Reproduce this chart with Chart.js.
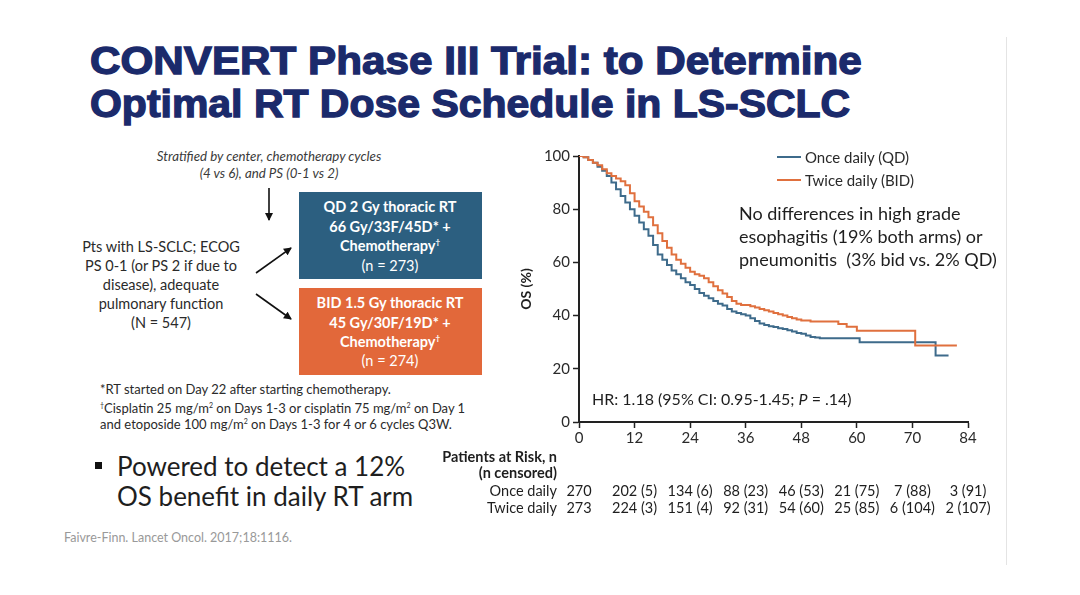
<!DOCTYPE html>
<html lang="en">
<head>
  <meta charset="UTF-8" />
  <title>CONVERT Phase III Trial - OS</title>
  <script src="https://cdn.jsdelivr.net/npm/chart.js"></script>
  <style>
    html, body { margin: 0; padding: 0; }
    body {
      width: 1080px;
      height: 595px;
      position: relative;
      overflow: hidden;
      background: #fff;
      font-family: Lato, 'Open Sans', sans-serif;
      color: #2b2b2b;
    }
    .t { position: absolute; white-space: pre; transform: translateY(-50%); line-height: 1.2; }
    .title {
      position: absolute;
      left: 90px;
      white-space: nowrap;
      font-family: 'Liberation Sans', Arial, sans-serif;
      font-weight: bold;
      font-size: 38px;
      line-height: 38px;
      color: #1b2a6b;
      -webkit-text-stroke: 1.3px #1b2a6b;
      transform-origin: left center;
    }
    .strat { font-style: italic; font-size: 13.3px; color: #3a3a3a; text-align: center; }
    .pts { font-size: 14.5px; color: #2a2a2a; }
    .box { position: absolute; left: 299px; width: 183px; height: 87px; }
    .boxtxt { color: #fff; font-weight: bold; font-size: 14.5px; }
    .foot { font-size: 13px; color: #2a2a2a; }
    .bullet { font-size: 26px; color: #1e1e1e; }
    .cite { font-size: 12.5px; color: #999; }
    .legend { font-size: 15px; color: #2a2a2a; }
    .lgline { position: absolute; width: 24px; height: 2px; }
    .note { font-size: 18px; color: #1e1e1e; }
    .hr { font-size: 16px; color: #1e1e1e; }
    .risk { font-size: 14.5px; color: #1e1e1e; }
    .riskhead { font-size: 14.5px; font-weight: bold; color: #1e1e1e; }
    #chartWrap { position: absolute; left: 500px; top: 140px; width: 480px; height: 320px; }
    #edge { position: absolute; left: 1006px; top: 37px; width: 1px; height: 528px; background: #e4e4e4; }
  </style>
</head>
<body>
  <div class="title" id="title1" style="top:42px">CONVERT Phase III Trial: to Determine</div>
  <div class="title" id="title2" style="top:85px">Optimal RT Dose Schedule in LS-SCLC</div>

  <!-- study design -->
  <div class="t strat" style="left:269px; top:157px; transform:translate(-50%,-50%)">Stratified by center, chemotherapy cycles</div>
  <div class="t strat" style="left:269px; top:174px; transform:translate(-50%,-50%)">(4 vs 6), and PS (0-1 vs 2)</div>

  <div class="t pts" style="left:161px; top:247px; transform:translate(-50%,-50%)">Pts with LS-SCLC; ECOG</div>
  <div class="t pts" style="left:161px; top:266px; transform:translate(-50%,-50%)">PS 0-1 (or PS 2 if due to</div>
  <div class="t pts" style="left:161px; top:285px; transform:translate(-50%,-50%)">disease), adequate</div>
  <div class="t pts" style="left:161px; top:304px; transform:translate(-50%,-50%)">pulmonary function</div>
  <div class="t pts" style="left:161px; top:323px; transform:translate(-50%,-50%)">(N = 547)</div>

  <svg width="1080" height="595" style="position:absolute;left:0;top:0">
    <defs>
      <marker id="ah" markerWidth="8" markerHeight="8" refX="7" refY="4" orient="auto" markerUnits="userSpaceOnUse">
        <path d="M0,0 L8,4 L0,8 z" fill="#111" />
      </marker>
    </defs>
    <line x1="269" y1="188" x2="269" y2="220" stroke="#111" stroke-width="1.6" marker-end="url(#ah)" />
    <line x1="256" y1="273" x2="291" y2="248" stroke="#111" stroke-width="1.6" marker-end="url(#ah)" />
    <line x1="256" y1="294" x2="291" y2="319" stroke="#111" stroke-width="1.6" marker-end="url(#ah)" />
  </svg>

  <div class="box" style="top:192px; background:#2c5f80"></div>
  <div class="box" style="top:288px; background:#e2683a"></div>
  <div class="t boxtxt" style="left:390px; top:207px; transform:translate(-50%,-50%)">QD 2 Gy thoracic RT</div>
  <div class="t boxtxt" style="left:390px; top:227px; transform:translate(-50%,-50%)">66 Gy/33F/45D* +</div>
  <div class="t boxtxt" style="left:390px; top:246px; transform:translate(-50%,-50%)">Chemotherapy<sup style="font-size:8px">†</sup></div>
  <div class="t boxtxt" style="left:390px; top:266px; transform:translate(-50%,-50%); font-weight:normal">(n = 273)</div>
  <div class="t boxtxt" style="left:390px; top:303px; transform:translate(-50%,-50%)">BID 1.5 Gy thoracic RT</div>
  <div class="t boxtxt" style="left:390px; top:323px; transform:translate(-50%,-50%)">45 Gy/30F/19D* +</div>
  <div class="t boxtxt" style="left:390px; top:342px; transform:translate(-50%,-50%)">Chemotherapy<sup style="font-size:8px">†</sup></div>
  <div class="t boxtxt" style="left:390px; top:361px; transform:translate(-50%,-50%); font-weight:normal">(n = 274)</div>

  <div class="t foot" style="left:100px; top:390px">*RT started on Day 22 after starting chemotherapy.</div>
  <div class="t foot" style="left:100px; top:409px"><sup style="font-size:7px">†</sup>Cisplatin 25 mg/m<sup style="font-size:7px">2</sup> on Days 1-3 or cisplatin 75 mg/m<sup style="font-size:7px">2</sup> on Day 1</div>
  <div class="t foot" style="left:100px; top:425px">and etoposide 100 mg/m<sup style="font-size:7px">2</sup> on Days 1-3 for 4 or 6 cycles Q3W.</div>

  <div style="position:absolute; left:95px; top:462px; width:7px; height:7px; background:#111"></div>
  <div class="t bullet" style="left:117px; top:467px">Powered to detect a 12%</div>
  <div class="t bullet" style="left:117px; top:497px">OS benefit in daily RT arm</div>
  <div class="t cite" style="left:64px; top:537px">Faivre-Finn. Lancet Oncol. 2017;18:1116.</div>

  <!-- chart -->
  <div id="chartWrap"><canvas id="osChart" width="480" height="320"></canvas></div>

  <div class="lgline" style="left:777px; top:156px; background:#3e6b8b"></div>
  <div class="t legend" style="left:805px; top:157px">Once daily (QD)</div>
  <div class="lgline" style="left:777px; top:179px; background:#e0703e"></div>
  <div class="t legend" style="left:805px; top:180px">Twice daily (BID)</div>

  <div class="t note" style="left:739px; top:214px">No differences in high grade</div>
  <div class="t note" style="left:739px; top:237px">esophagitis (19% both arms) or</div>
  <div class="t note" style="left:739px; top:260px">pneumonitis  (3% bid vs. 2% QD)</div>

  <div class="t hr" style="left:592px; top:399px">HR: 1.18 (95% CI: 0.95-1.45; <i>P</i> = .14)</div>

  <div class="t riskhead" style="right:523px; top:457px">Patients at Risk, n</div>
  <div class="t riskhead" style="right:523px; top:473px">(n censored)</div>
  <div class="t risk" style="right:523px; top:491px">Once daily</div>
  <div class="t risk" style="right:523px; top:508px">Twice daily</div>
  <div id="riskCells"></div>

  <div id="edge"></div>

  <script>
    // months and OS (%)
    const qdMonths = [0, 1, 2, 3, 4, 5, 6, 7, 8, 9, 10, 11, 12, 13, 14, 15, 16, 17, 18, 19, 20,
      21, 22, 23, 24, 25, 26, 27, 28, 29, 30, 31, 32, 33, 34, 35, 36, 37, 38, 39, 40,
      41, 42, 43, 44, 45, 46, 47, 48, 49, 50, 51, 52, 60.6, 77, 79.8];
    const qdSurvival = [100, 99.5, 98.5, 97.5, 96, 94.5, 92.5, 90, 87.5, 85, 82.5, 80, 77.5, 75, 72.5, 70, 66.5, 63, 61, 59, 57,
      55.5, 54, 52.5, 51.5, 50, 48.5, 47.5, 46.5, 45.5, 44.5, 43.8, 42.5, 41.5, 41, 40.5, 40, 39, 38, 37, 36.5,
      36, 35.7, 35.2, 35, 34.5, 34, 33.5, 33.2, 32.5, 32, 31.8, 31.5, 30, 25, 25];

    const bidMonths = [0, 1, 2, 3, 4, 5, 6, 7, 8, 9, 10, 11, 12, 13, 14, 15, 16, 17, 18, 19, 20,
      21, 22, 23, 24, 25, 26, 27, 28, 29, 30, 31, 32, 33, 34, 35, 36, 37, 38, 39, 40,
      41, 42, 43, 44, 45, 46, 47, 48, 50, 56, 57.8, 60, 72.6, 81.6];
    const bidSurvival = [100, 99.5, 98.5, 97.5, 96.5, 95, 93.5, 92.5, 91.5, 90.5, 89, 86, 83, 81, 79, 77, 74, 71, 68, 65.5, 63,
      61, 59.5, 58, 56.5, 55.5, 55, 54, 52.5, 51, 49.5, 48.3, 47, 45.5, 44.5, 44, 44, 43.5, 43, 42.5, 42,
      41.5, 41, 40.5, 40, 39.5, 39, 38.5, 38.2, 37.8, 36.8, 35.8, 34.3, 28.8, 28.8];

    const xTickValues = [0, 12, 24, 36, 48, 60, 72, 84];
    const xTickLabels = ['0', '12', '24', '36', '48', '60', '70', '84'];

    // patients at risk (n censored)
    const qdAtRisk = [270, 202, 134, 88, 46, 21, 7, 3];
    const qdCensored = [null, 5, 6, 23, 53, 75, 88, 91];
    const bidAtRisk = [273, 224, 151, 92, 54, 25, 6, 2];
    const bidCensored = [null, 3, 4, 31, 60, 85, 104, 107];

    // stretch the title lines to the slide widths
    const t1 = document.getElementById('title1');
    const t2 = document.getElementById('title2');
    t1.style.transform = 'scaleX(' + (772 / t1.scrollWidth) + ')';
    t2.style.transform = 'scaleX(' + (760 / t2.scrollWidth) + ')';

    const tickFont = { family: 'Lato', size: 15 };

    const chart = new Chart(document.getElementById('osChart'), {
      type: 'line',
      data: {
        datasets: [
          {
            label: 'Once daily (QD)',
            data: qdMonths.map((m, i) => ({ x: m, y: qdSurvival[i] })),
            borderColor: '#3e6b8b',
            borderWidth: 2,
            stepped: true,
            pointRadius: 0,
            order: 1
          },
          {
            label: 'Twice daily (BID)',
            data: bidMonths.map((m, i) => ({ x: m, y: bidSurvival[i] })),
            borderColor: '#e0703e',
            borderWidth: 2,
            stepped: true,
            pointRadius: 0,
            order: 0
          }
        ]
      },
      options: {
        responsive: false,
        animation: false,
        layout: { padding: { top: 16, right: 12, left: 0, bottom: 0 } },
        plugins: { legend: { display: false }, tooltip: { enabled: false } },
        scales: {
          x: {
            type: 'linear',
            min: 0,
            max: 84,
            afterBuildTicks: s => { s.ticks = xTickValues.map(v => ({ value: v })); },
            ticks: {
              callback: (v, i) => xTickLabels[i],
              font: tickFont,
              color: '#2a2a2a',
              padding: 1,
              maxRotation: 0,
              autoSkip: false
            },
            grid: { drawOnChartArea: false, tickLength: 6, color: '#222', tickWidth: 1.5 },
            border: { display: true, color: '#222', width: 2 },
            afterFit: s => { s.height = 38; }
          },
          y: {
            min: 0,
            max: 100,
            ticks: { stepSize: 20, font: tickFont, color: '#2a2a2a', padding: 3 },
            grid: { drawOnChartArea: false, tickLength: 6, color: '#222', tickWidth: 1.5 },
            border: { display: true, color: '#222', width: 2 },
            title: {
              display: true,
              text: 'OS (%)',
              font: { family: 'Lato', size: 14, weight: 'bold' },
              color: '#1e1e1e',
              padding: { top: 18 }
            },
            afterFit: s => { s.width = 79; }
          }
        }
      }
    });

    // risk table cells centred under the x ticks
    const cells = document.getElementById('riskCells');
    const wrapLeft = 500;
    function cell(text, px, top) {
      const d = document.createElement('div');
      d.className = 't risk';
      d.textContent = text;
      d.style.left = px + 'px';
      d.style.top = top + 'px';
      d.style.transform = 'translate(-50%,-50%)';
      cells.appendChild(d);
    }
    xTickValues.forEach((m, i) => {
      const px = wrapLeft + chart.scales.x.getPixelForValue(m);
      cell(qdAtRisk[i] + (qdCensored[i] === null ? '' : ' (' + qdCensored[i] + ')'), px, 491);
      cell(bidAtRisk[i] + (bidCensored[i] === null ? '' : ' (' + bidCensored[i] + ')'), px, 508);
    });
  </script>
</body>
</html>
